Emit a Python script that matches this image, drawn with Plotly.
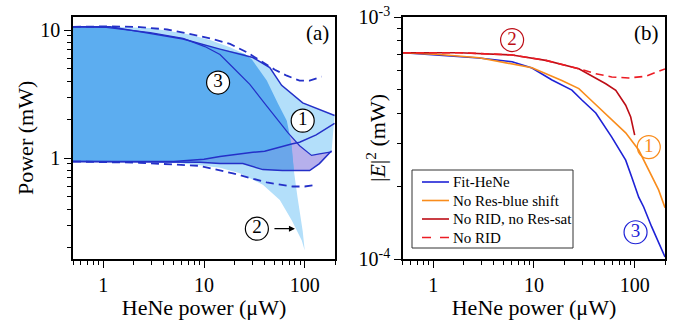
import numpy as np
import plotly.graph_objects as go

# ---------------- Panel (a) data ----------------
# region 1 (solid blue pair, labelled 1)
r1_upper_x = [0.5, 1.17, 1.98, 6.2, 14.4, 30.6, 45, 59, 95.5, 198]
r1_upper_y = [10.6, 10.6, 9.9, 8.5, 7.1, 6.1, 5.1, 3.7, 2.7, 2.15]
r1_lower_x = [0.5, 5, 10, 14.4, 30.6, 40, 74, 89, 130, 198]
r1_lower_y = [0.94, 0.94, 0.98, 1.03, 1.11, 1.13, 1.29, 1.33, 1.52, 1.87]
# region 3 (solid blue pair, labelled 3)
r3_upper_x = [0.5, 1.07, 2.92, 6.2, 10.2, 14.4, 19.4, 28.5, 40, 54.2, 68, 89, 117, 140, 185]
r3_upper_y = [10.6, 10.5, 9.55, 8.6, 7.43, 6.44, 5.1, 3.77, 2.67, 1.97, 1.58, 1.25, 1.05, 1.08, 1.12]
r3_lower_x = [0.5, 9.1, 14.4, 24.3, 38.4, 60, 112, 140, 185]
r3_lower_y = [0.94, 0.93, 0.906, 0.906, 0.813, 0.80, 0.80, 0.906, 1.14]
# region 2 (light-blue cusp, labelled 2)
r2_upper_x = [0.5, 1.17, 2.92, 6.8, 11.5, 18.1, 25.4, 29.9, 42, 54.2, 66.4, 72.8, 78, 85, 95.5, 100]
r2_upper_y = [10.6, 10.6, 10.4, 9.3, 8.35, 7.35, 6.5, 5.9, 4.03, 2.67, 1.96, 1.37, 0.80, 0.49, 0.27, 0.19]
r2_lower_x = [0.5, 2.0, 5, 9.1, 14.4, 22.7, 38.4, 56.6, 74.5, 93.5, 100]
r2_lower_y = [0.94, 0.94, 0.92, 0.88, 0.84, 0.76, 0.62, 0.47, 0.325, 0.227, 0.19]
# No-RID boundaries (dashed)
norid_upper_x = [0.5, 1.17, 2.32, 4.3, 6.8, 11.5, 18.1, 26.7, 38.4, 50.5, 66.4, 89, 112, 147]
norid_upper_y = [10.6, 10.7, 10.56, 10.1, 9.4, 8.6, 7.8, 6.7, 5.6, 4.9, 4.4, 4.03, 4.03, 4.33]
norid_lower_x = [0.5, 2.3, 9.1, 19.4, 42, 76, 100, 131]
norid_lower_y = [0.94, 0.92, 0.87, 0.76, 0.645, 0.60, 0.60, 0.62]

# ---------------- Panel (b) data ----------------
fit_x = [0.5, 1.15, 2.85, 6.06, 9.55, 15.1, 23.8, 29.9, 41.1, 59.2, 81.4, 93.4, 109.6, 122.8, 147.3, 200]
fit_y = [7.12e-4, 6.97e-4, 6.77e-4, 6.53e-4, 6.15e-4, 5.49e-4, 4.99e-4, 4.54e-4, 4.01e-4,
         3.19e-4, 2.56e-4, 2.18e-4, 1.80e-4, 1.64e-4, 1.36e-4, 1.02e-4]
nobs_x = [0.5, 1.15, 2.85, 6.06, 9.55, 18.9, 27.9, 36.7, 55.3, 81.4, 109.6, 137.6, 172.8, 200]
nobs_y = [7.12e-4, 7.0e-4, 6.79e-4, 6.41e-4, 6.17e-4, 5.47e-4, 5.06e-4, 4.54e-4, 3.86e-4,
          3.32e-4, 2.82e-4, 2.33e-4, 1.93e-4, 1.63e-4]
nosat_x = [0.5, 1.81, 6.06, 13.1, 27.9, 51.6, 64.9, 81.4, 91.3, 100]
nosat_y = [7.12e-4, 7.12e-4, 6.97e-4, 6.62e-4, 6.11e-4, 5.30e-4, 4.98e-4, 4.32e-4, 3.86e-4, 3.25e-4]
norid_x = [0.5, 1.81, 6.06, 13.1, 27.9, 41.1, 59.2, 87.2, 128.5, 180.8, 200]
norid_y = [7.12e-4, 7.12e-4, 6.97e-4, 6.62e-4, 6.11e-4, 5.83e-4, 5.65e-4, 5.60e-4, 5.69e-4, 6.03e-4, 6.1e-4]

legend_names = ["Fit-HeNe", "No Res-blue shift", "No RID, no Res-sat", "No RID"]

# ---------------- styles ----------------
SERIF = "Liberation Serif"
LB = "#b3dffa"
MB = "#5cadf0"
PUR = "#b6b0ec"
MBP = "#6aa6ea"
LINE_A = "#2430c8"
C_FIT = "#1e22d6"
C_NOBS = "#f98c1c"
C_NOSAT = "#bd0d16"
C_NORID = "#ec1c24"

W, H = 674, 320
ML, MR, MT, MB_ = 73, 9, 17, 61
PW, PH = W - ML - MR, H - MT - MB_

def px_x(p):  # pixel -> paper x
    return (p - ML) / PW

def px_y(p):  # pixel -> paper y
    return (H - MB_ - p) / PH

fig = go.Figure()

def poly(ux, uy, lx, ly, color):
    xs = list(ux) + list(lx)[::-1]
    ys = list(uy) + list(ly)[::-1]
    fig.add_trace(go.Scatter(x=xs, y=ys, fill="toself", fillcolor=color, mode="lines",
                             line=dict(width=0, color=color), hoverinfo="skip",
                             showlegend=False, xaxis="x", yaxis="y"))

A = lambda v: np.asarray(v, dtype=float)
r1ux, r1uy, r1lx, r1ly = A(r1_upper_x), A(r1_upper_y), A(r1_lower_x), A(r1_lower_y)
r3ux, r3uy, r3lx, r3ly = A(r3_upper_x), A(r3_upper_y), A(r3_lower_x), A(r3_lower_y)
r2ux, r2uy, r2lx, r2ly = A(r2_upper_x), A(r2_upper_y), A(r2_lower_x), A(r2_lower_y)

poly(r2ux, r2uy, r2lx, r2ly, LB)
poly(r1ux, r1uy, r3lx, r3ly, LB)
poly(r3ux, r3uy, r3lx, r3ly, PUR)
m1 = r1ux <= 14.4
m2 = (r2ux >= 25) & (r2ux <= 78)
m3 = r3lx < 78
poly(np.concatenate([r1ux[m1], r2ux[m2]]), np.concatenate([r1uy[m1], r2uy[m2]]),
     r3lx[m3], r3ly[m3], MB)
mc = (r1lx >= 5) & (r1lx <= 74)
mu = r2ux == 78
md = (r3lx >= 9) & (r3lx < 78)
poly(np.concatenate([r1lx[mc], r2ux[mu]]), np.concatenate([r1ly[mc], r2uy[mu]]),
     r3lx[md], r3ly[md], MBP)

def line(x, y, color, dash="solid", width=1.5, xa="x", ya="y", name=None):
    fig.add_trace(go.Scatter(x=x, y=y, mode="lines", line=dict(color=color, width=width, dash=dash),
                             xaxis=xa, yaxis=ya, name=name, showlegend=False, hoverinfo="skip"))

line(r1_upper_x, r1_upper_y, LINE_A)
line(r1_lower_x, r1_lower_y, LINE_A)
line(r3_upper_x, r3_upper_y, LINE_A, width=1.2)
line(r3_lower_x, r3_lower_y, LINE_A)
line(norid_upper_x, norid_upper_y, LINE_A, dash="8px,5px", width=1.8)
line(norid_lower_x, norid_lower_y, LINE_A, dash="8px,5px", width=1.8)

lab_a_x = [13.8, 95.5, 33.5]
lab_a_y = [3.89, 1.96, 0.281]
lab_a_t = ["3", "1", "2"]
fig.add_trace(go.Scatter(x=lab_a_x, y=lab_a_y, mode="markers+text", text=lab_a_t,
                         textposition="middle center",
                         textfont=dict(family=SERIF, size=19, color="black"),
                         marker=dict(size=23, color="white", line=dict(color="black", width=1.2)),
                         xaxis="x", yaxis="y", showlegend=False, hoverinfo="skip"))

# ---------------- panel (b) ----------------
series_b = [(fit_x, fit_y, C_FIT, "solid"), (nobs_x, nobs_y, C_NOBS, "solid"),
            (nosat_x, nosat_y, C_NOSAT, "solid"), (norid_x, norid_y, C_NORID, "8px,5px")]
for (sx, sy, sc, sd), nm in zip(series_b, legend_names):
    line(sx, sy, sc, dash=sd, width=1.6, xa="x2", ya="y2", name=nm)

lab_b_x = [6.06, 138, 102]
lab_b_y = [8.03e-4, 2.9e-4, 1.29e-4]
lab_b_t = ["2", "1", "3"]
lab_b_c = [C_NOSAT, C_NOBS, C_FIT]
for xx, yy, tt, cc in zip(lab_b_x, lab_b_y, lab_b_t, lab_b_c):
    fig.add_trace(go.Scatter(x=[xx], y=[yy], mode="markers+text", text=[tt],
                             textposition="middle center",
                             textfont=dict(family=SERIF, size=19, color=cc),
                             marker=dict(size=23, color="rgba(0,0,0,0)", line=dict(color=cc, width=1.2)),
                             xaxis="x2", yaxis="y2", showlegend=False, hoverinfo="skip"))

# ---------------- manual legend (panel b) ----------------
leg_left, leg_right, leg_top, leg_bot = 412, 573, 170, 248
row_y = [182, 200.5, 219, 237.5]
fig.add_shape(type="rect", xref="paper", yref="paper",
              x0=px_x(leg_left), x1=px_x(leg_right), y0=px_y(leg_bot), y1=px_y(leg_top),
              line=dict(color="#333", width=1), fillcolor="white", layer="above")
for (sx, sy, sc, sd), nm, ry in zip(series_b, legend_names, row_y):
    fig.add_shape(type="line", xref="paper", yref="paper",
                  x0=px_x(leg_left + 10), x1=px_x(leg_left + 37), y0=px_y(ry), y1=px_y(ry),
                  line=dict(color=sc, width=1.6, dash="dash" if sd != "solid" else "solid"),
                  layer="above")
    fig.add_annotation(text=nm, xref="paper", yref="paper", x=px_x(leg_left + 39), y=px_y(ry),
                       xanchor="left", yanchor="middle", showarrow=False,
                       font=dict(family=SERIF, size=15, color="black"))

# ---------------- axes ----------------
xmajor = [1, 10, 100]
xminor = [0.5, 0.6, 0.7, 0.8, 0.9] + [k for k in range(2, 10)] + [10 * k for k in range(2, 10)] + [200]
ya_major = [1, 10]
ya_minor = [0.2, 0.3, 0.4, 0.5, 0.6, 0.7, 0.8, 0.9] + [k for k in range(2, 10)]
yb_major = [1e-4, 1e-3]
yb_minor = [k * 1e-4 for k in range(2, 10)]

tickfont = dict(family=SERIF, size=20, color="black")
titlefont = dict(family=SERIF, size=22, color="black")

def xax(domain, anchor):
    return dict(type="log", range=[np.log10(0.5), np.log10(200)], domain=domain, anchor=anchor,
                showline=True, linecolor="black", linewidth=1.6, mirror=True,
                ticks="outside", ticklen=7, tickwidth=1.3, tickcolor="black",
                tickmode="array", tickvals=xmajor, ticktext=["1", "10", "100"],
                minor=dict(tickmode="array", tickvals=xminor, ticks="outside", ticklen=4,
                           tickwidth=1.1, tickcolor="black", showgrid=False),
                showgrid=False, zeroline=False, tickfont=tickfont,
                title=dict(text="HeNe power (\u03bcW)", font=titlefont, standoff=3),
                automargin=False)

def yax(rng, anchor, vals, texts, minor_vals):
    return dict(type="log", range=rng, domain=[0, 1], anchor=anchor,
                showline=True, linecolor="black", linewidth=1.6, mirror=True,
                ticks="outside", ticklen=7, tickwidth=1.3, tickcolor="black",
                tickmode="array", tickvals=vals, ticktext=texts,
                minor=dict(tickmode="array", tickvals=minor_vals, ticks="outside", ticklen=4,
                           tickwidth=1.1, tickcolor="black", showgrid=False),
                showgrid=False, zeroline=False, tickfont=tickfont, automargin=False)

fig.update_layout(
    template="none",
    width=W, height=H,
    margin=dict(l=ML, r=MR, t=MT, b=MB_),
    paper_bgcolor="white", plot_bgcolor="white",
    xaxis=xax([0, 0.4426], "y"),
    xaxis2=xax([0.5574, 1], "y2"),
    yaxis=yax([-0.788, 1.102], "x", ya_major, ["1", "10"], ya_minor),
    yaxis2=yax([-4, -3], "x2", yb_major, ["10<sup>-4</sup>", "10<sup>-3</sup>"], yb_minor),
    showlegend=False,
)

# y-axis titles as rotated text
fig.add_annotation(text="Power (mW)", xref="paper", yref="paper", x=px_x(25), y=0.5,
                   xanchor="center", yanchor="middle", textangle=-90, showarrow=False,
                   font=titlefont)
fig.add_annotation(text="|<i>E</i>|<sup>2</sup> (mW)", xref="paper", yref="paper", x=px_x(376), y=0.5,
                   xanchor="center", yanchor="middle", textangle=-90, showarrow=False,
                   font=titlefont)

fig.add_annotation(text="(a)", xref="x domain", yref="y domain", x=0.985, y=0.99,
                   xanchor="right", yanchor="top", showarrow=False,
                   font=dict(family=SERIF, size=21, color="black"))
fig.add_annotation(text="(b)", xref="x2 domain", yref="y2 domain", x=0.985, y=0.99,
                   xanchor="right", yanchor="top", showarrow=False,
                   font=dict(family=SERIF, size=21, color="black"))
arrow_tip = (80, 0.281)
fig.add_annotation(x=np.log10(arrow_tip[0]), y=np.log10(arrow_tip[1]), xref="x", yref="y",
                   ax=-22, ay=0, text="", showarrow=True, arrowhead=2, arrowsize=1,
                   arrowwidth=1.2, arrowcolor="black")

fig.write_html("out.html", config={"displayModeBar": False},
               post_script="document.body.style.margin='0';document.body.style.padding='0';")
